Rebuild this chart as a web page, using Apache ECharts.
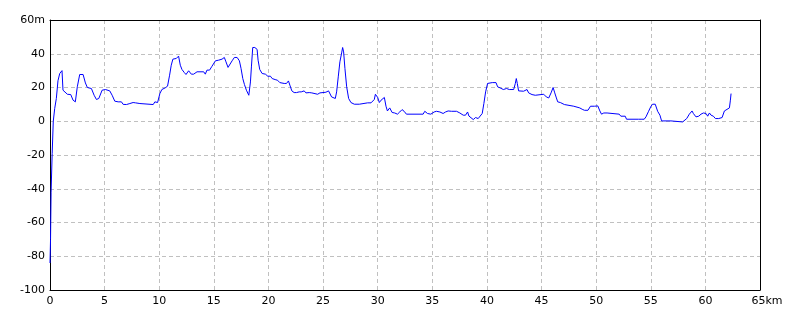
<!DOCTYPE html>
<html>
<head>
<meta charset="utf-8">
<script src="https://cdn.jsdelivr.net/npm/echarts@6/dist/echarts.min.js"></script>
<style>html,body{margin:0;padding:0;background:#fff}#c{width:800px;height:320px}</style>
</head>
<body>
<div id="c"></div>
<script>
const distKm = [0,0.05,0.1,0.2,0.3,0.43,0.58,0.73,0.89,1.1,1.19,1.35,1.59,1.9,2.11,2.32,2.5,2.72,3.03,3.24,3.42,3.79,4.04,4.25,4.47,4.77,5.08,5.47,5.69,5.93,6.24,6.39,6.54,6.7,7.0,7.16,7.31,7.61,7.83,8.01,8.23,8.38,9.45,9.6,9.85,10.06,10.24,10.4,10.55,10.7,10.76,10.95,11.1,11.25,11.56,11.77,11.93,12.08,12.29,12.45,12.69,12.94,13.15,13.46,14.07,14.22,14.37,14.61,14.83,15.14,15.44,15.75,15.96,16.11,16.3,16.45,16.67,16.88,17.13,17.34,17.49,17.65,17.8,17.98,18.2,18.35,18.44,18.56,18.75,18.96,19.05,19.2,19.42,19.72,19.94,20.18,20.34,20.61,20.83,21.04,21.22,21.44,21.65,21.83,21.96,22.14,22.35,22.57,22.81,23.0,23.27,23.43,23.73,23.97,24.13,24.5,24.71,25.26,25.5,25.63,25.78,25.96,26.12,26.24,26.39,26.54,26.7,26.79,26.88,27.0,27.16,27.34,27.55,27.86,28.32,28.38,29.08,29.24,29.39,29.54,29.69,29.79,30.0,30.15,30.31,30.46,30.61,30.76,30.89,31.1,31.32,31.56,31.81,32.02,32.23,32.42,32.63,34.16,34.31,34.56,34.86,35.17,35.38,35.69,35.99,36.21,36.45,36.76,37.22,37.52,37.83,38.04,38.23,38.35,38.53,38.75,38.96,39.2,39.36,39.57,39.72,39.88,40.06,40.18,40.49,40.67,40.83,40.98,41.2,41.5,41.8,42.05,42.45,42.6,42.69,42.78,42.9,43.06,43.36,43.67,43.82,44.13,44.43,44.59,45.2,45.44,45.66,45.87,46.06,46.21,46.36,46.48,46.72,46.88,47.09,47.25,47.95,48.1,48.5,48.72,48.93,49.11,49.25,49.48,49.85,50.03,50.15,50.34,50.49,50.7,50.85,51.0,51.16,52.11,52.26,52.66,52.78,53.88,54.0,54.19,54.4,54.56,54.8,55.02,55.17,55.41,55.63,55.84,55.99,56.85,57.0,57.92,58.07,58.29,58.53,58.78,58.9,59.14,59.39,59.6,59.82,60.06,60.21,60.37,60.52,60.73,60.92,61.22,61.38,61.53,61.74,61.9,62.2,62.29,62.35];
const elevM = [-84,-70,-42,-19,0,7.5,13.5,24,28.3,30,18.4,17.4,16,15.8,12.5,11.5,20.4,27.7,27.7,22.7,20,19.4,15.4,12.9,13.5,18.4,18.8,18,15.4,11.9,11.5,10.5,11.5,10,9.9,8.9,10.5,11.1,10.9,10,10.5,9.9,9.9,11.5,11.1,16.4,18.8,17.8,19.8,18.8,20.8,27.3,33.2,36.8,37.2,38.6,33.2,30.7,28.9,27.7,29.9,27.9,27.9,29.3,29.3,27.9,30.3,30.3,32.6,35.8,36.2,36.8,37.8,35.2,31.9,32.6,35.8,37.8,37.8,35.8,31.3,25.3,21.8,18.4,15.4,23.3,32.2,43.7,43.7,42.6,36.2,30.7,28.3,27.9,26.7,26.7,25.3,24.7,24.3,22.9,23.3,22.4,22.4,23.9,21.4,18,17,17,17.4,17.4,18,16.8,17,16.8,16,16,16.8,17.2,18,18.8,14.4,14.8,13.5,17.4,26.3,35.2,40.5,43.7,41.1,31.3,20.4,13.5,11.1,10.1,10.1,10.9,10.9,11.9,10.9,10.1,12.9,16,14.1,11.1,12.5,12.9,14.1,8.9,6.1,7.9,5.2,4.9,4.2,5.5,6.9,5.9,4.2,4.2,5.9,4.6,4.2,5.5,5.9,5.5,4.6,5.5,6.1,5.9,5.9,4.9,3.6,3.6,5.5,3.1,2.2,1.0,2.2,1.6,1.0,4.6,10.5,17.4,22.4,22.9,22.9,21.8,22.9,20.4,19.8,18.8,19.4,18.8,18.8,22.4,25.3,22.4,18,17,17.8,18.8,16.8,15.8,15.4,16,16,14.4,13.8,16.8,20,16.8,13.8,11.5,11.1,10.1,9.9,8.9,8.9,8.1,7.9,7.1,6.5,5.9,6.5,8.9,8.9,7.9,9.1,6.1,4.2,4.9,5.5,4.9,4.2,4.2,3.0,3.0,1.2,1.2,1.8,1.2,1.2,2.6,5.9,8.9,10.1,10.1,5.9,3.6,0.2,0.2,-0.4,-0.4,0.2,1.6,4.2,6.1,4.6,2.6,3.0,4.2,4.9,4.6,3.0,4.9,3.6,3.0,1.6,1.6,1.0,2.2,6.1,7.1,7.9,12.5,16.4];
const xUnit = 'km';
const yUnit = 'm';

const chart = echarts.init(document.getElementById('c'), null, {renderer: 'canvas'});
const font = '"DejaVu Sans", sans-serif';
const gridLine = {show: true, lineStyle: {color: '#c0c0c0', type: [4, 3], width: 1}};
const boxAxis = {show: true, onZero: false, lineStyle: {color: '#000', width: 1}};
chart.setOption({
  backgroundColor: '#ffffff',
  animation: false,
  grid: {left: 50, right: 40, top: 20, bottom: 30},
  xAxis: [{
    type: 'value', min: 0, max: 65, interval: 5, position: 'bottom',
    axisLine: boxAxis,
    axisTick: {show: false},
    splitLine: gridLine,
    axisLabel: {
      color: '#000', fontFamily: font, fontSize: 11, margin: 6,
      formatter: v => v === 65 ? '{k|' + v + xUnit + '}' : String(v),
      rich: {k: {color: '#000', fontFamily: font, fontSize: 11, padding: [0, 0, 0, 14]}}
    }
  }, {
    type: 'value', min: 0, max: 65, interval: 5, position: 'top',
    axisLine: boxAxis, axisTick: {show: false}, axisLabel: {show: false}, splitLine: {show: false}
  }],
  yAxis: [{
    type: 'value', min: -100, max: 60, interval: 20, position: 'left',
    axisLine: boxAxis,
    axisTick: {show: false},
    splitLine: gridLine,
    axisLabel: {
      color: '#000', fontFamily: font, fontSize: 11, margin: 5,
      formatter: v => v === 60 ? v + yUnit : String(v)
    }
  }, {
    type: 'value', min: -100, max: 60, interval: 20, position: 'right',
    axisLine: boxAxis, axisTick: {show: false}, axisLabel: {show: false}, splitLine: {show: false}
  }],
  series: [{
    type: 'line',
    xAxisIndex: 0, yAxisIndex: 0,
    data: distKm.map((d, i) => [d, elevM[i]]),
    showSymbol: false,
    symbol: 'none',
    lineStyle: {color: '#0000ff', width: 1},
    z: 3
  }]
});
</script>
</body>
</html>
